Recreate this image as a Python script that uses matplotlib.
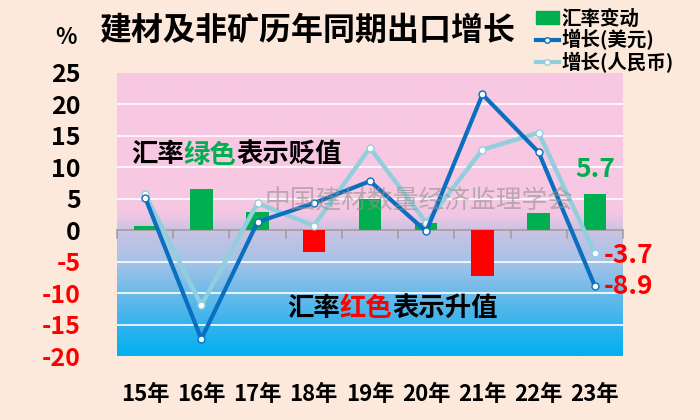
import numpy as np
import matplotlib
matplotlib.use('Agg')
import matplotlib.pyplot as plt
from matplotlib.colors import LinearSegmentedColormap
from matplotlib.lines import Line2D
from matplotlib.patches import Patch

plt.rcParams['font.family'] = ['Noto Sans CJK SC', 'DejaVu Sans']

# data
years = ['15年', '16年', '17年', '18年', '19年', '20年', '21年', '22年', '23年']
fx_change = [0.7, 6.5, 2.9, -3.4, 4.9, 1.2, -7.2, 2.7, 5.7]
growth_usd = [5.2, -17.3, 1.3, 4.3, 7.8, -0.2, 21.6, 12.4, -8.9]
growth_rmb = [5.7, -11.9, 4.3, 0.7, 13.1, 1.2, 12.8, 15.5, -3.7]
yticks = [25, 20, 15, 10, 5, 0, -5, -10, -15, -20]

bg = '#FDE9DB'
green = '#00B050'
red = '#FF0000'
dark = '#0B6FBF'
light = '#92CFDD'

fig = plt.figure(figsize=(7, 4.2), dpi=100, facecolor=bg)
ax = fig.add_axes([117 / 700, 1 - 356 / 420, 506 / 700, 283 / 420])
ax.set_facecolor(bg)

x = np.arange(len(years))
ax.set_xlim(-0.5, len(years) - 0.5)
ax.set_ylim(-20, 25)

# background gradient (pink above zero, lavender -> blue below)
stops = [(-20, '#00B0F0'), (-15, '#35B3EE'), (-10, '#6CBBE9'), (-5, '#A6C3E8'),
         (0, '#CBC2E3'), (2.5, '#F2C6E3'), (5, '#F8C8E3'), (25, '#F8C8E3')]
pos = [(v + 20) / 45 for v, _ in stops]
cmap = LinearSegmentedColormap.from_list('bgc', list(zip(pos, [c for _, c in stops])))
grad = np.linspace(1, 0, 400).reshape(-1, 1)
ax.imshow(grad, cmap=cmap, aspect='auto', extent=[-0.5, len(years) - 0.5, -20, 25],
          vmin=0, vmax=1, zorder=0)

for v in [20, 15, 10, 5, -5, -10, -15]:
    ax.axhline(v, color='white', lw=1.2, zorder=1)

# zero axis with boundary ticks
ax.axhline(0, color='#A0A0A0', lw=1.2, zorder=2)
for b in np.arange(-0.5, len(years), 1.0):
    ax.plot([b, b], [0, -1.2], color='#A0A0A0', lw=1.2, zorder=2, clip_on=False)

cols = [green if v >= 0 else red for v in fx_change]
ax.bar(x, fx_change, width=0.4, color=cols, zorder=3)

ax.plot(x, growth_rmb, color=light, lw=3.2, marker='o', ms=5, mfc='white',
        mec=light, mew=1, zorder=4, solid_joinstyle='miter')
ax.plot(x, growth_usd, color=dark, lw=3, marker='o', ms=5, mfc='white',
        mec=dark, mew=1, zorder=5, solid_joinstyle='miter')

for s in ax.spines.values():
    s.set_visible(False)
ax.set_xticks([])
ax.set_yticks(yticks)
ax.set_yticklabels([str(v) for v in yticks])
ax.tick_params(axis='y', length=0, pad=26)
for lab, v in zip(ax.get_yticklabels(), yticks):
    lab.set_fontsize(18)
    lab.set_fontweight('bold')
    lab.set_color(red if v < 0 else 'black')

for i, y in enumerate(years):
    ax.text(i, -26.2, y, ha='center', va='center', fontsize=16, fontweight='bold')

# value labels for the last year
ax.text(x[-1], 9.6, f'{fx_change[-1]}', color=green, fontsize=19, fontweight='bold',
        ha='center', va='center', zorder=6)
ax.text(x[-1] + 0.15, growth_rmb[-1] - 0.3, f'{growth_rmb[-1]}', color=red, fontsize=19,
        fontweight='bold', ha='left', va='center', zorder=6)
ax.text(x[-1] + 0.15, growth_usd[-1], f'{growth_usd[-1]}', color=red, fontsize=19,
        fontweight='bold', ha='left', va='center', zorder=6)

# watermark
fig.text(419 / 700, 1 - 201 / 420, '中国建材数量经济监理学会', color='#909090', alpha=0.6,
         fontsize=18.5, ha='center', va='center', fontweight='light', zorder=10)


def multi_text(x0, y0, parts, size):
    step = size * 100 / 72 / 700
    pos_x = x0 / 700
    for txt, c in parts:
        fig.text(pos_x, 1 - y0 / 420, txt, color=c, fontsize=size, fontweight='bold',
                 ha='left', va='center', zorder=10)
        pos_x += step * len(txt)


multi_text(131, 155, [('汇率', 'black'), ('绿色', green), ('表示贬值', 'black')], 19)
multi_text(287, 308, [('汇率', 'black'), ('红色', red), ('表示升值', 'black')], 19)

# title
fig.text(55 / 700, 1 - 38 / 420, '%', fontsize=16, fontweight='bold', ha='left', va='center')
fig.text(307 / 700, 1 - 31 / 420, '建材及非矿历年同期出口增长', fontsize=23, fontweight='heavy',
         ha='center', va='center')

handles = [Patch(color=green),
           Line2D([], [], color=dark, lw=3, marker='o', ms=4, mfc='white', mec=dark),
           Line2D([], [], color=light, lw=3, marker='o', ms=4, mfc='white', mec=light)]
fig.legend(handles, ['汇率变动', '增长(美元)', '增长(人民币)'], loc='upper left',
           bbox_to_anchor=(518 / 700, 1.02), frameon=False, handlelength=1.2,
           handletextpad=0.15, labelspacing=0.05, prop={'size': 14, 'weight': 'bold'})

fig.savefig('out.png', dpi=100, facecolor=bg)
